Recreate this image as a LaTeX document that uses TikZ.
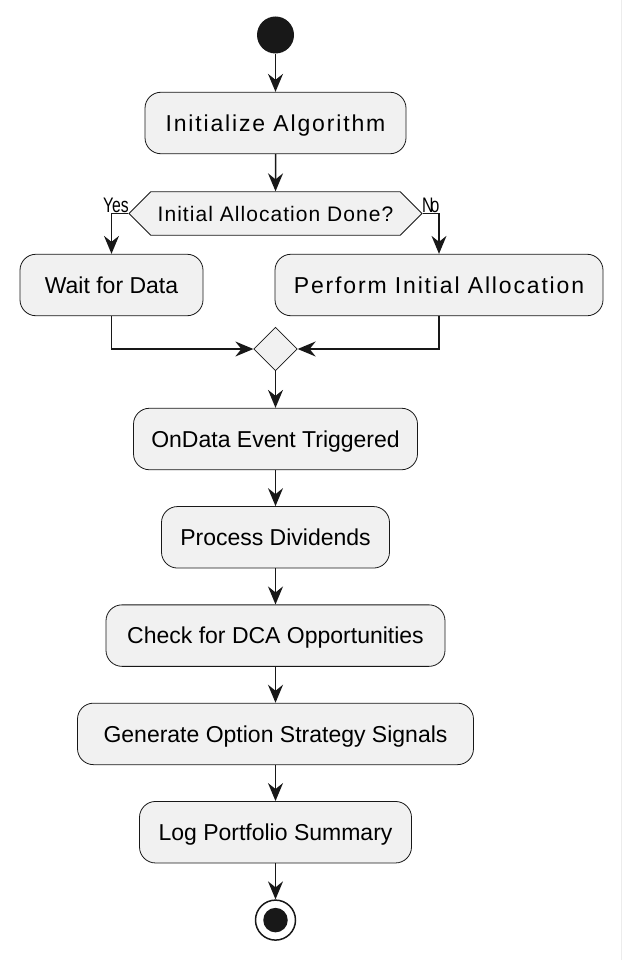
\documentclass[tikz,border=0pt]{standalone}
\usepackage{fontspec}
\setmainfont{Liberation Sans}
\newfontfamily\spacedfont{Liberation Sans}[LetterSpace=8]
\newfontfamily\askfont{Liberation Sans}[LetterSpace=5]
\newfontfamily\guardfont{Liberation Sans}[FakeStretch=0.75]
\usetikzlibrary{positioning}
\usetikzlibrary{arrows.meta}
\usetikzlibrary{shapes.geometric}
\usetikzlibrary{shapes.symbols}

\definecolor{boxfill}{HTML}{F1F1F1}
\definecolor{ink}{HTML}{181818}

\begin{document}
\begin{tikzpicture}[x=1pt, y=-1pt, node distance=36pt, action/.style={draw=ink, fill=boxfill, line width=0.8pt, rounded corners=16pt, minimum height=61.5pt, inner xsep=10pt, text height=16.5pt, text depth=0pt, font=\fontsize{23}{27}\selectfont},flow/.style={draw=ink, line width=1.5pt, -{Stealth[length=18pt, width=15pt, inset=6pt]}}]
\tikzstyle{spaced}=[font=\fontsize{23}{27}\spacedfont]
\tikzstyle{guard}=[font=\fontsize{21}{24}\guardfont, inner sep=0pt]
\useasboundingbox (0,0) rectangle (624,960);
\draw [gray!15, line width=1pt] (621,0) -- (621,960);

\node (start) [circle, fill=ink, minimum size=37pt, inner sep=0pt] at (275.5,35) {};
\node (init) [action, spaced, minimum width=261pt] at (275.5,123) {Initialize Algorithm};
\node (check) [signal, signal to=west and east, signal pointer angle=90, draw=ink, fill=boxfill, line width=0.8pt, minimum width=293pt, minimum height=43.5pt, inner sep=0pt, text height=15pt, text depth=0pt, font=\fontsize{21}{24}\askfont] at (275.5,213.5) {Initial Allocation Done?};
\node (wait) [action, minimum width=183pt] at (111.5,285) {Wait for Data};
\node (alloc) [action, spaced, minimum width=328pt] at (439,285) {Perform Initial Allocation};
\node (merge) [diamond, draw=ink, fill=boxfill, line width=0.8pt, minimum size=43.5pt, inner sep=0pt] at (275.5,349) {};
\node (ondata) [action, minimum width=284pt] at (275.5,439) {OnData Event Triggered};
\node (divs) [action, minimum width=228pt, below=of ondata] {Process Dividends};
\node (dca) [action, minimum width=339pt, below=of divs] {Check for DCA Opportunities};
\node (signals) [action, minimum width=396pt, below=of dca] {Generate Option Strategy Signals};
\node (logsum) [action, minimum width=272pt, below=of signals] {Log Portfolio Summary};
\node (stop) [circle, draw=ink, fill=white, line width=1.5pt, minimum size=40pt, inner sep=0pt, below=of logsum] {};
\node (stopdot) [circle, fill=ink, minimum size=24.5pt, inner sep=0pt] at (stop.center) {};

% ramas
\node (yes) [guard, anchor=base east] at (129,212) {Yes};
\node (no) [guard, anchor=base west] at (422,212) {N\kern-3pt o};

% flechas
\draw [flow] (start) -- (init);
\draw [flow] (init) -- (check);
\draw [flow] (check.west) -| (wait);
\draw [flow] (check.east) -| (alloc);
\draw [flow] (wait) |- (merge);
\draw [flow] (alloc) |- (merge);
\draw [flow] (merge) -- (ondata);
\draw [flow] (ondata) -- (divs);
\draw [flow] (divs) -- (dca);
\draw [flow] (dca) -- (signals);
\draw [flow] (signals) -- (logsum);
\draw [flow] (logsum) -- (stop);
\end{tikzpicture}
\end{document}
